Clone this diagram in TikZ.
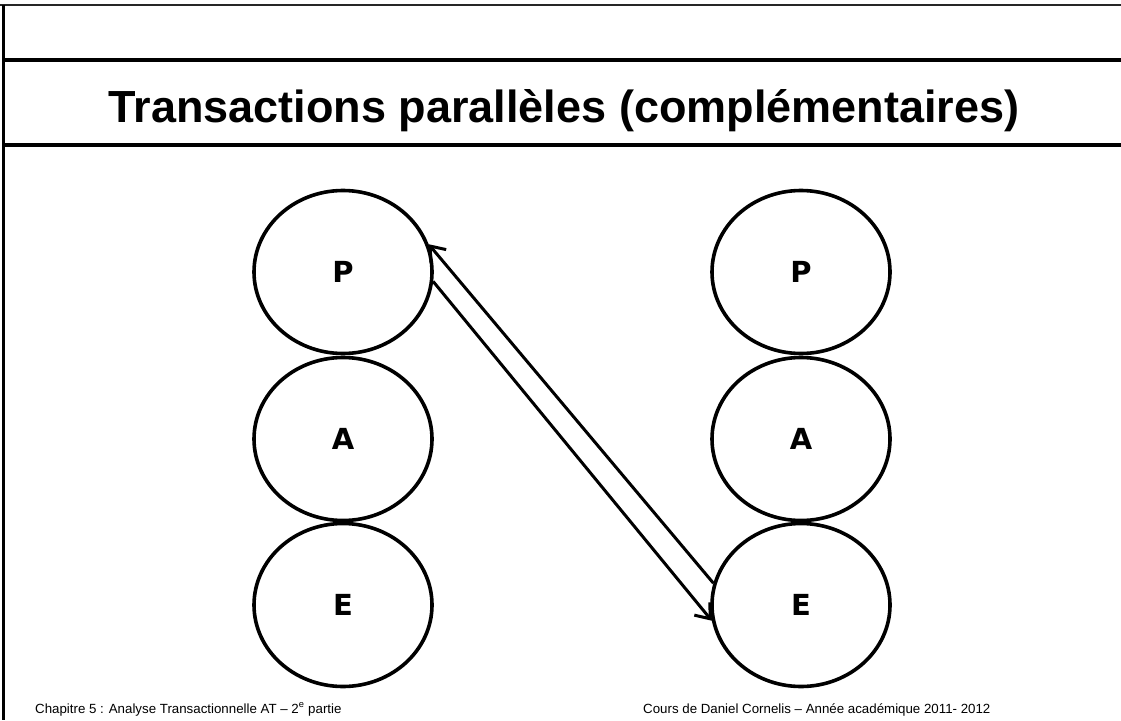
\documentclass[tikz,border=0pt]{standalone}
\usepackage{fontspec}
\setmainfont{Liberation Sans}
\newfontfamily\labelfont{DejaVu Sans}
\usetikzlibrary{shapes.geometric,arrows.meta}
\tikzset{
  ego/.style={draw, ellipse, line width=3.6pt, inner sep=0pt,
    minimum width=178pt, minimum height=163pt,
    font=\labelfont\bfseries\fontsize{29}{29}\selectfont},
  rule/.style={line width=4.5pt},
  trans/.style={line width=3pt, -{Straight Barb[length=13pt,width=20pt,line width=3pt]}},
  foot/.style={font=\fontsize{13.3}{14}\selectfont, inner sep=0pt, anchor=base west}
}
\begin{document}
\begin{tikzpicture}[x=1pt,y=-1pt]
\useasboundingbox (0,0) rectangle (1121,720);
% frame
\coordinate (tl) at (3,5);
\coordinate (tr) at (1121,5);
\coordinate (bl) at (3,720);
\draw[line width=2.6pt, black!85] (0,5) -- (tr);
\draw[line width=3pt] (tl) -- (bl);
\coordinate (r1l) at (3,60);
\coordinate (r1r) at (1121,60);
\coordinate (r2l) at (3,145);
\coordinate (r2r) at (1121,145);
\draw[rule] (r1l) -- (r1r);
\draw[rule] (r2l) -- (r2r);
% title
\node[font=\bfseries\fontsize{45}{45}\selectfont, inner sep=0pt, anchor=base] (title) at (564,122) {Transactions parallèles (complémentaires)};
% ego states
\node[ego] (P1) at (343,272) {P};
\node[ego] (A1) at (343,439) {A};
\node[ego] (E1) at (343,605) {E};
\node[ego] (P2) at (801,272) {P};
\node[ego] (A2) at (801,439) {A};
\node[ego] (E2) at (801,605) {E};
% transactions
\draw[trans] (P1.-6) -- (E2.190);
\draw[trans] (E2.166) -- (P1.18);
% footers
\node[foot] (f1) at (35,713) {Chapitre 5 : Analyse Transactionnelle AT – 2\textsuperscript{e} partie};
\node[foot] (f2) at (643,713) {Cours de Daniel Cornelis – Année académique 2011- 2012};
\end{tikzpicture}
\end{document}
